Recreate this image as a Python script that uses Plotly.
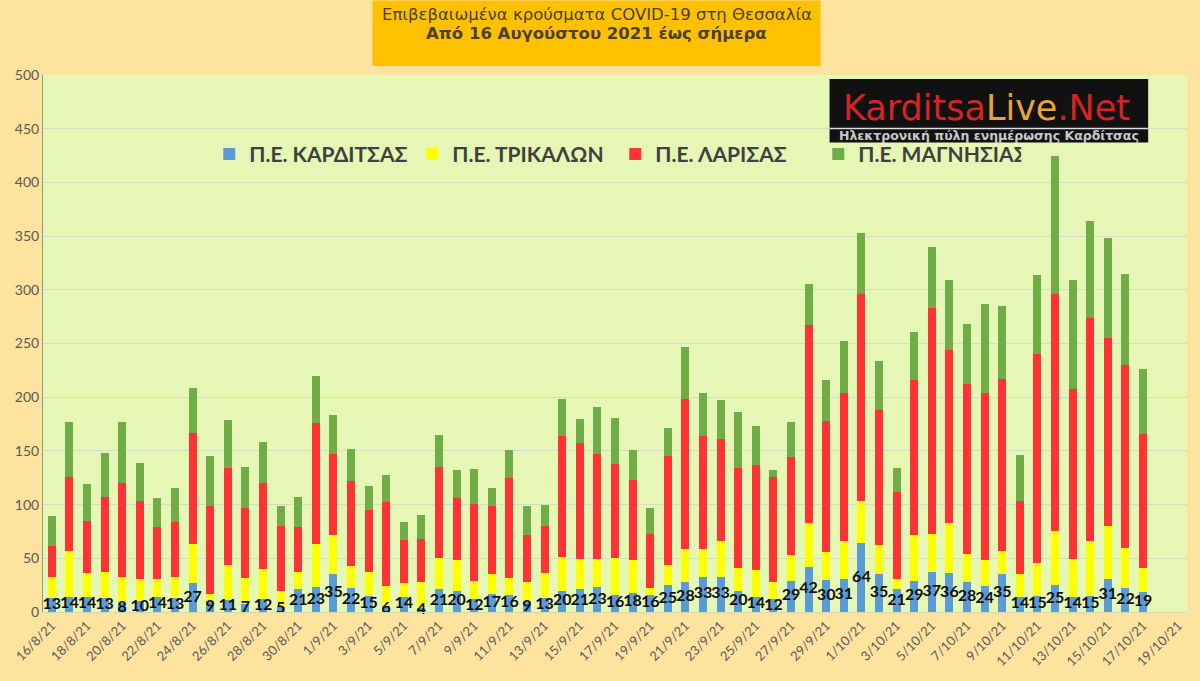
"""Confirmed COVID-19 cases in Thessaly, stacked by regional unit."""

import plotly.graph_objects as go

# category axis: 16/8/21 .. 19/10/21 (last two days have no data yet)
axis_dates = [
    "16/8/21", "17/8/21", "18/8/21", "19/8/21", "20/8/21", "21/8/21", "22/8/21", "23/8/21",
    "24/8/21", "25/8/21", "26/8/21", "27/8/21", "28/8/21", "29/8/21", "30/8/21", "31/8/21",
    "1/9/21", "2/9/21", "3/9/21", "4/9/21", "5/9/21", "6/9/21", "7/9/21", "8/9/21",
    "9/9/21", "10/9/21", "11/9/21", "12/9/21", "13/9/21", "14/9/21", "15/9/21", "16/9/21",
    "17/9/21", "18/9/21", "19/9/21", "20/9/21", "21/9/21", "22/9/21", "23/9/21", "24/9/21",
    "25/9/21", "26/9/21", "27/9/21", "28/9/21", "29/9/21", "30/9/21",
    "1/10/21", "2/10/21", "3/10/21", "4/10/21", "5/10/21", "6/10/21", "7/10/21", "8/10/21",
    "9/10/21", "10/10/21", "11/10/21", "12/10/21", "13/10/21", "14/10/21", "15/10/21",
    "16/10/21", "17/10/21", "18/10/21", "19/10/21",
]
dates = axis_dates[:63]

karditsa = [13, 14, 14, 13, 8, 10, 14, 13, 27, 9, 11, 7, 12, 5, 21, 23,
            35, 22, 15, 6, 14, 4, 21, 20, 12, 17, 16, 9, 13, 20, 21, 23, 16, 18, 16, 25,
            28, 33, 33, 20, 14, 12, 29, 42, 30, 31,
            64, 35, 21, 29, 37, 36, 28, 24, 35, 14, 15, 25, 14, 15, 31, 22, 19]
trikala = [20, 43, 22, 24, 25, 21, 17, 20, 36, 8, 33, 25, 28, 15, 16, 40,
           37, 21, 22, 18, 13, 24, 29, 28, 17, 18, 16, 19, 23, 31, 28, 26, 34, 30, 6, 19,
           31, 26, 33, 21, 25, 16, 24, 41, 26, 35,
           39, 27, 10, 43, 36, 47, 26, 24, 22, 21, 31, 50, 35, 51, 49, 38, 22]
larisa = [28, 69, 49, 70, 87, 72, 48, 51, 104, 82, 90, 65, 80, 60, 42, 113,
          75, 79, 58, 78, 40, 40, 85, 58, 72, 64, 93, 44, 44, 113, 108, 98, 88, 75, 51, 101,
          139, 105, 95, 93, 98, 98, 91, 184, 122, 138,
          193, 126, 81, 144, 210, 161, 158, 156, 160, 68, 194, 221, 159, 208, 175, 170, 125]
magnisia = [28, 51, 34, 41, 57, 36, 27, 31, 42, 46, 45, 38, 38, 19, 28, 44,
            36, 30, 22, 26, 17, 22, 30, 26, 32, 16, 26, 27, 20, 34, 23, 44, 43, 28, 24, 26,
            49, 40, 36, 52, 36, 6, 33, 38, 38, 48,
            57, 46, 22, 45, 57, 65, 56, 83, 68, 43, 74, 129, 101, 90, 93, 85, 60]

series_names = ["Π.Ε. ΚΑΡΔΙΤΣΑΣ", "Π.Ε. ΤΡΙΚΑΛΩΝ", "Π.Ε. ΛΑΡΙΣΑΣ", "Π.Ε. ΜΑΓΝΗΣΙΑΣ"]
series_colors = ["#5b9bd5", "#ffff00", "#ff3333", "#70ad47"]

# plot area in pixels, used to place the boxes drawn outside it
PX_L, PX_R, PX_T, PX_B = 38, 1187, 75, 616


def px(x):
    return (x - PX_L) / (PX_R - PX_L)


def py(y):
    return (PX_B - y) / (PX_B - PX_T)


fig = go.Figure()

for name, color, vals in zip(series_names, series_colors,
                             [karditsa, trikala, larisa, magnisia]):
    fig.add_trace(go.Bar(
        x=dates,
        y=vals,
        name=name,
        marker=dict(color=color, line=dict(width=0)),
        hoverinfo="x+y+name",
    ))

# Kardítsa counts, centred on the blue segment and drawn over every bar
fig.add_trace(go.Scatter(
    x=dates,
    y=[v / 2 for v in karditsa],
    mode="text",
    text=karditsa,
    textposition="middle center",
    textfont=dict(family="Lato", size=16, color="#111111", weight="bold"),
    showlegend=False,
    hoverinfo="skip",
    cliponaxis=False,
))

shapes = [
    # title box
    dict(type="rect", xref="paper", yref="paper", x0=px(369), x1=px(819),
         y0=py(66), y1=py(0), fillcolor="#ffc000", line=dict(width=0), layer="above"),
    # logo box
    dict(type="rect", xref="paper", yref="paper", x0=px(828), x1=px(1148),
         y0=py(143), y1=py(79), fillcolor="#111111", line=dict(width=0), layer="above"),
    dict(type="line", xref="paper", yref="paper", x0=px(828), x1=px(1148),
         y0=py(129), y1=py(129), line=dict(color="#e0e0e0", width=1.5), layer="above"),
]

annotations = [
    dict(text="Επιβεβαιωμένα κρούσματα COVID-19 στη Θεσσαλία", xref="paper", yref="paper",
         x=px(594), y=py(14), showarrow=False, xanchor="center", yanchor="middle",
         font=dict(family="DejaVu Sans", size=16.5, color="#4a4030")),
    dict(text="<b>Από 16 Αυγούστου 2021 έως σήμερα</b>", xref="paper", yref="paper",
         x=px(594), y=py(33), showarrow=False, xanchor="center", yanchor="middle",
         font=dict(family="DejaVu Sans", size=16.5, color="#4a4030")),
    dict(text="<span style='color:#d42525'>Karditsa</span>"
              "<span style='color:#e8a33a'>Live</span>"
              "<span style='color:#d42525'>.Net</span>",
         xref="paper", yref="paper", x=px(986), y=py(108), showarrow=False,
         xanchor="center", yanchor="middle",
         font=dict(family="DejaVu Sans", size=35)),
    dict(text="<b>Ηλεκτρονική πύλη ενημέρωσης Καρδίτσας</b>", xref="paper", yref="paper",
         x=px(988), y=py(136), showarrow=False, xanchor="center", yanchor="middle",
         font=dict(family="DejaVu Sans", size=12.5, color="#c8c8c8")),
]

fig.update_layout(
    width=1200,
    height=681,
    barmode="stack",
    bargap=0.55,
    paper_bgcolor="#fde39d",
    plot_bgcolor="#e6f6b5",
    margin=dict(l=PX_L, r=1200 - PX_R, t=PX_T, b=681 - PX_B),
    font=dict(family="Lato", color="#595959"),
    shapes=shapes,
    annotations=annotations,
    legend=dict(
        orientation="h",
        x=px(205),
        y=py(155),
        xanchor="left",
        yanchor="middle",
        bgcolor="rgba(0,0,0,0)",
        font=dict(family="Lato", size=21, color="#404040", weight="bold"),
        traceorder="normal",
        entrywidth=158,
        itemclick=False,
    ),
    xaxis=dict(
        type="category",
        categoryorder="array",
        categoryarray=axis_dates,
        range=[-0.5, len(axis_dates) - 0.5],
        tickmode="array",
        tickvals=axis_dates[::2],
        ticktext=axis_dates[::2],
        tickangle=-45,
        tickfont=dict(size=13, color="#595959"),
        showgrid=False,
        showline=True,
        linecolor="#d0dcb0",
        ticks="",
    ),
    yaxis=dict(
        range=[0, 500],
        dtick=50,
        tickfont=dict(size=14, color="#595959"),
        gridcolor="#d6dcc4",
        gridwidth=1,
        showline=True,
        linecolor="#8c9c80",
        zeroline=False,
        ticks="",
    ),
)

# the page body has a default margin; drop it so the figure sits at 0,0
fig.write_html("out.html", config={"displayModeBar": False},
               post_script="document.body.style.margin='0';")
